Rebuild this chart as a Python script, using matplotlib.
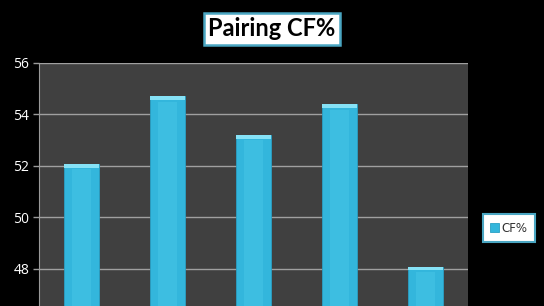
import matplotlib
matplotlib.use("Agg")
import matplotlib.pyplot as plt
import numpy as np

# pairing values
pairs = ["P1", "P2", "P3", "P4", "P5"]
cf_pct = [52.07, 54.7, 53.19, 54.39, 48.09]
y_ticks = [48, 50, 52, 54, 56]

fig = plt.figure(figsize=(5.44, 3.06), dpi=100, facecolor="black")
ax = fig.add_axes([39 / 544, 0, 429 / 544, 243 / 306])
ax.set_facecolor("#404040")

x = np.arange(len(pairs))
vals = np.array(cf_pct)
bars = ax.bar(x, vals - 40, bottom=40, width=0.41, color="#33b6dc",
              edgecolor="#2aa0c4", linewidth=0.6, zorder=3, label="CF%")
# light bevel on top of each bar
ax.bar(x, 0.14, bottom=vals - 0.14, width=0.41, color="#86e2f6",
       linewidth=0, zorder=4)
# inner highlight stripe
ax.bar(x, vals - 40.2, bottom=40, width=0.22, color="#45c4e6",
       linewidth=0, zorder=4, alpha=0.6)

ax.set_xlim(-0.5, len(pairs) - 0.5)
ax.set_ylim(46.56, 56)
ax.set_yticks(y_ticks)
ax.set_xticks([])
ax.grid(axis="y", color="#a0a0a0", linewidth=1, zorder=1)
ax.tick_params(axis="y", colors="#9a9a9a", labelcolor="white", labelsize=10,
               length=4, width=1, pad=3)
for lbl in ax.get_yticklabels():
    lbl.set_fontfamily("Open Sans")
for s in ["top", "right", "bottom"]:
    ax.spines[s].set_visible(False)
ax.spines["left"].set_color("#9a9a9a")

fig.text(272 / 544, 1 - 29 / 306, "Pairing CF%", ha="center", va="center",
         fontsize=17, fontweight="bold", family="Lato", color="black",
         bbox=dict(boxstyle="square,pad=0.2", facecolor="white",
                   edgecolor="#4aa6c2", linewidth=1.8))

leg = fig.legend(handles=[bars[0]], labels=["CF%"], loc="center",
                 bbox_to_anchor=(509 / 544, 1 - 228 / 306), fontsize=8.5,
                 frameon=True, fancybox=False, framealpha=1,
                 handlelength=0.7, handleheight=0.7, handletextpad=0.25,
                 borderpad=0.65)
leg.get_frame().set_edgecolor("#4aa6c2")
leg.get_frame().set_linewidth(1.5)
leg.get_frame().set_facecolor("white")
for t in leg.get_texts():
    t.set_color("#303030")

fig.savefig("out.png", dpi=100, facecolor="black")
